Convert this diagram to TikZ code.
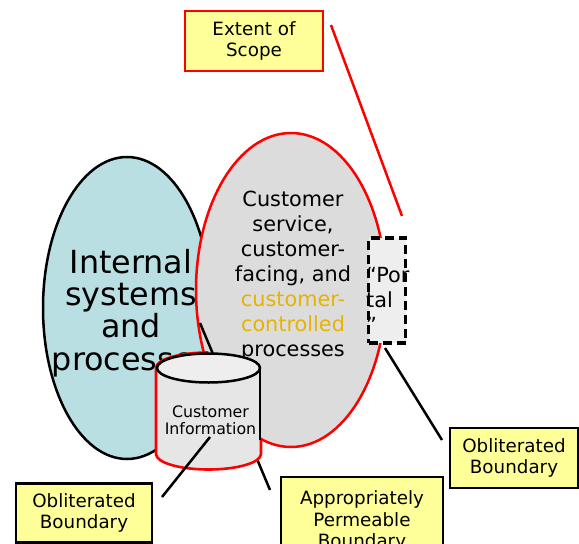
\documentclass[tikz,border=0pt]{standalone}
\usepackage{fontspec}
\setmainfont{DejaVu Sans}
\usetikzlibrary{shapes.geometric}
\definecolor{boxyellow}{HTML}{FFFF99}
\definecolor{lightblue}{HTML}{B9DFE3}
\definecolor{greyfill}{HTML}{DCDCDC}
\definecolor{cylside}{HTML}{E6E6E6}
\definecolor{cyltop}{HTML}{EEEEEE}
\definecolor{goldtext}{HTML}{E6B400}
\begin{document}
\begin{tikzpicture}[x=1pt,y=-1pt,
  labelbox/.style={draw=black, line width=2.5pt, fill=boxyellow, align=center, inner sep=0pt,
    font=\fontsize{18.3}{21.5}\selectfont},
  blob/.style={ellipse, line width=2.5pt, inner sep=0pt},
  connector/.style={draw=black, line width=2.5pt},
  bigtext/.style={align=center, inner sep=0pt, font=\fontsize{31.8}{32.3}\selectfont},
  midtext/.style={align=center, inner sep=0pt, font=\fontsize{20.8}{25}\selectfont}]
\clip (0,0) rectangle (579,544);
\useasboundingbox (0,0) rectangle (579,544);

% left ellipse
\node (internal) [blob, draw=black, fill=lightblue, minimum width=168pt, minimum height=302pt] at (127,308) {};
\node (internaltext) [bigtext] at (131,313) {Internal\\systems\\and\\processes};

% grey ellipse (extent of scope)
\node (scope) [blob, draw=red, fill=greyfill, minimum width=190pt, minimum height=314pt] at (291,290) {};
\node (scopetext) [midtext] at (293,276) {Customer\\service,\\customer-\\facing, and\\\textcolor{goldtext}{customer-}\\\textcolor{goldtext}{controlled}\\processes};

% portal
\node (portal) [draw=black, line width=3.5pt, dash pattern=on 9pt off 5pt, fill=cyltop,
  minimum width=37pt, minimum height=105pt, inner sep=0pt] at (387,290.5) {};
\node (portaltext) [anchor=north west, align=left, inner sep=0pt, font=\fontsize{20.8}{25}\selectfont] at (366,267) {“Por\\tal\\”};

% appropriately permeable connector (behind cylinder)
\coordinate (apA) at (200,323);
\coordinate (apB) at (270,490);
\draw[connector] (apA) -- (apB);

% cylinder
\fill[cylside] (157,368) rectangle (260,454);
\fill[cylside] (208.5,454) ellipse [x radius=51.5, y radius=14.5];
\draw[red, line width=2.6pt] (208.5,352.5) .. controls (179.5,352.5) and (156,359.4) .. (156,368)
  -- (156,454) .. controls (156,462.6) and (179.5,469.5) .. (208.5,469.5)
  .. controls (237.5,469.5) and (261,462.6) .. (261,454) -- (261,440);
\draw[line width=2.5pt, fill=cyltop] (208.5,368) ellipse [x radius=51.5, y radius=14.5];
\draw[line width=2.5pt] (260,368) -- (260,440);
\node (cylinder) [align=center, inner sep=0pt, font=\fontsize{15.8}{16.5}\selectfont] at (210.5,420) {Customer\\Information};

% connectors
\coordinate (obA) at (162,497);
\coordinate (obB) at (210,437);
\draw[connector] (obA) -- (obB);
\coordinate (orA) at (385,348);
\coordinate (orB) at (442,440);
\draw[connector] (orA) -- (orB);
\coordinate (esA) at (331,25);
\coordinate (esB) at (402,216);
\draw[red, line width=2.5pt] (esA) -- (esB);

% label boxes
\node (extent) [labelbox, draw=red, minimum width=138pt, minimum height=60pt] at (254,41) {Extent of\\Scope};
\node (oblitL) [labelbox, minimum width=136pt, minimum height=59pt] at (84,513) {Obliterated\\Boundary};
\node (permeable) [labelbox, minimum width=162pt, minimum height=88pt] at (362,521) {Appropriately\\Permeable\\Boundary};
\node (oblitR) [labelbox, minimum width=128pt, minimum height=60pt] at (514,458) {Obliterated\\Boundary};
\end{tikzpicture}
\end{document}
